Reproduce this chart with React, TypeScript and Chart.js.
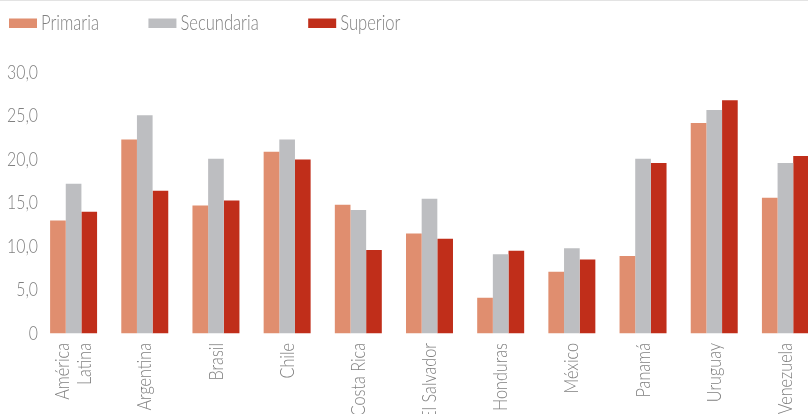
import { useEffect, useRef } from 'react';
import { Chart, registerables } from 'chart.js';

Chart.register(...registerables);

const categories: (string | string[])[] = [
  ['América', 'Latina'],
  'Argentina',
  'Brasil',
  'Chile',
  'Costa Rica',
  'El Salvador',
  'Honduras',
  'México',
  'Panamá',
  'Uruguay',
  'Venezuela',
];
const seriesNames = ['Primaria', 'Secundaria', 'Superior'];
const primaria = [13.0, 22.3, 14.7, 20.9, 14.8, 11.5, 4.1, 7.1, 8.9, 24.2, 15.6];
const secundaria = [17.2, 25.1, 20.1, 22.3, 14.2, 15.5, 9.1, 9.8, 20.1, 25.7, 19.6];
const superior = [14.0, 16.4, 15.3, 20.0, 9.6, 10.9, 9.5, 8.5, 19.6, 26.8, 20.4];
const yTickLabels = ['0', '5,0', '10,0', '15,0', '20,0', '25,0', '30,0'];

const FONT = "Lato, 'Open Sans', sans-serif";
const TEXT = '#808080';
const CANVAS_W = 821;
const CANVAS_H = 420;
const CONDENSE = 0.79;

const customLegend = {
  id: 'customLegend',
  afterDraw(chart: any) {
    const ctx = chart.ctx;
    ctx.save();
    ctx.font = `300 21px ${FONT}`;
    ctx.textBaseline = 'middle';
    ctx.textAlign = 'left';
    let x = 9;
    chart.data.datasets.forEach((ds: any) => {
      ctx.fillStyle = ds.backgroundColor;
      ctx.fillRect(x, 17.5, 28, 9.5);
      ctx.fillStyle = TEXT;
      ctx.fillText(ds.label, x + 32, 22);
      x += 32 + ctx.measureText(ds.label).width * CONDENSE + 49.5;
    });
    ctx.restore();
  },
};

const centerMultiline = {
  id: 'centerMultiline',
  beforeDraw(chart: any) {
    const sc = chart.scales.x;
    if (!sc) return;
    const items = sc.getLabelItems(chart.chartArea);
    items.forEach((it: any) => {
      if (Array.isArray(it.label) && it.label.length > 1 && !it._shifted) {
        const lh = it.font.lineHeight;
        it.options.translation[0] -= ((it.label.length - 1) * lh) / 2;
        it._shifted = true;
      }
    });
  },
};

function condenseText(ctx: CanvasRenderingContext2D) {
  const anyCtx = ctx as any;
  if (anyCtx.__condensed) return;
  const orig = ctx.fillText;
  anyCtx.fillText = function (text: string, x: number, y: number, maxWidth?: number) {
    const w = this.measureText(text).width * CONDENSE;
    const mw = maxWidth !== undefined ? Math.min(maxWidth, w) : w;
    return orig.call(this, text, x, y, mw > 0 ? mw : undefined);
  };
  anyCtx.__condensed = true;
}

export default function App() {
  const ref = useRef<HTMLCanvasElement>(null);

  useEffect(() => {
    if (!ref.current) return;
    const ctx2d = ref.current.getContext('2d');
    if (ctx2d) condenseText(ctx2d);
    const chart = new Chart(ref.current, {
      type: 'bar',
      data: {
        labels: categories,
        datasets: [
          { label: seriesNames[0], data: primaria, backgroundColor: '#e08e6f' },
          { label: seriesNames[1], data: secundaria, backgroundColor: '#bdbec1' },
          { label: seriesNames[2], data: superior, backgroundColor: '#c02e1a' },
        ],
      },
      options: {
        responsive: false,
        animation: false,
        devicePixelRatio: 1,
        layout: { padding: { top: 71.5, left: 0, right: 0, bottom: 0 } },
        datasets: {
          bar: { categoryPercentage: 0.66, barPercentage: 1, borderWidth: 0 },
        },
        plugins: {
          legend: { display: false },
          tooltip: { enabled: false },
        },
        scales: {
          x: {
            grid: { display: false, drawTicks: false },
            border: { display: false },
            ticks: {
              autoSkip: false,
              maxRotation: 90,
              minRotation: 90,
              padding: 9.5,
              color: TEXT,
              font: { family: FONT, size: 20.5, weight: '300', lineHeight: 1.1 },
            },
            afterFit: (s: any) => {
              s.height = CANVAS_H - 332.5;
            },
          },
          y: {
            min: 0,
            max: 30,
            grid: { display: false, drawTicks: false },
            border: { display: false },
            ticks: {
              stepSize: 5,
              padding: 0,
              color: TEXT,
              font: { family: FONT, size: 20, weight: '300' },
              callback: (_v: any, i: number) => yTickLabels[i],
            },
            afterFit: (s: any) => {
              s.width = 38;
            },
          },
        },
      },
      plugins: [customLegend, centerMultiline],
    });
    return () => chart.destroy();
  }, []);

  return (
    <div
      style={{
        position: 'fixed',
        left: 0,
        top: 0,
        width: 808,
        height: 414,
        overflow: 'hidden',
        background: '#fff',
        borderTop: '1px solid #e3e3e3',
        boxSizing: 'border-box',
      }}
    >
      <canvas ref={ref} width={CANVAS_W} height={CANVAS_H} style={{ display: 'block' }} />
    </div>
  );
}
